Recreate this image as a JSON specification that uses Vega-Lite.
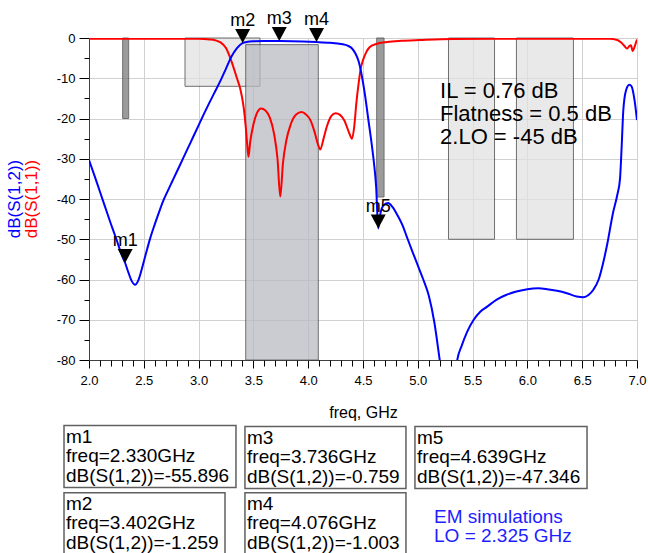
{
  "$schema": "https://vega.github.io/schema/vega-lite/v6.json",
  "width": 548,
  "height": 322,
  "autosize": "none",
  "padding": {"left": 89, "top": 38, "right": 11, "bottom": 193},
  "background": "white",
  "config": {"font": "Liberation Sans", "view": {"stroke": "#404040", "strokeWidth": 1}},
  "resolve": {"axis": {"x": "independent", "y": "independent"}},
  "datasets": {
    "zones": [
      {"x1": 2.307, "x2": 2.362, "y1": 0, "y2": -20, "kind": "dark"},
      {"x1": 2.876, "x2": 3.56, "y1": 0, "y2": -12, "kind": "light"},
      {"x1": 3.43, "x2": 4.092, "y1": -1.65, "y2": -80, "kind": "pass"},
      {"x1": 4.625, "x2": 4.692, "y1": 0, "y2": -39.5, "kind": "dark"},
      {"x1": 5.28, "x2": 5.70, "y1": 0, "y2": -50, "kind": "light"},
      {"x1": 5.90, "x2": 6.42, "y1": 0, "y2": -50, "kind": "light"}
    ],
    "s12": [
      {"f":2.00,"db":-30.3},{"f":2.05,"db":-34.2},{"f":2.10,"db":-38.2},{"f":2.15,"db":-42.2},{"f":2.20,"db":-46.2},{"f":2.25,"db":-50.0},{"f":2.30,"db":-54.0},{"f":2.33,"db":-55.9},{"f":2.36,"db":-58.3},{"f":2.39,"db":-60.4},{"f":2.42,"db":-61.3},{"f":2.45,"db":-60.2},{"f":2.48,"db":-57.6},{"f":2.52,"db":-53.5},{"f":2.56,"db":-49.6},{"f":2.60,"db":-46.3},{"f":2.64,"db":-43.2},{"f":2.68,"db":-40.3},{"f":2.72,"db":-37.9},{"f":2.76,"db":-35.6},{"f":2.80,"db":-33.3},{"f":2.85,"db":-30.4},{"f":2.90,"db":-27.5},{"f":2.95,"db":-24.6},{"f":3.00,"db":-21.7},{"f":3.05,"db":-18.8},{"f":3.10,"db":-16.0},{"f":3.15,"db":-13.3},{"f":3.20,"db":-10.6},{"f":3.25,"db":-7.6},{"f":3.30,"db":-4.6},{"f":3.35,"db":-2.5},{"f":3.40,"db":-1.26},{"f":3.45,"db":-0.95},{"f":3.50,"db":-0.82},{"f":3.60,"db":-0.72},{"f":3.736,"db":-0.76},{"f":3.85,"db":-0.8},{"f":3.95,"db":-0.86},{"f":4.076,"db":-1.0},{"f":4.20,"db":-1.2},{"f":4.30,"db":-1.5},{"f":4.36,"db":-1.9},{"f":4.40,"db":-2.6},{"f":4.43,"db":-3.8},{"f":4.46,"db":-5.8},{"f":4.49,"db":-9.5},{"f":4.52,"db":-14.5},{"f":4.55,"db":-20.5},{"f":4.58,"db":-26.5},{"f":4.60,"db":-31},{"f":4.62,"db":-37},{"f":4.639,"db":-47.3},{"f":4.66,"db":-43.5},{"f":4.69,"db":-41.5},{"f":4.73,"db":-41},{"f":4.77,"db":-42},{"f":4.82,"db":-44.3},{"f":4.86,"db":-46.5},{"f":4.90,"db":-49.4},{"f":4.95,"db":-53},{"f":5.00,"db":-56.5},{"f":5.05,"db":-60},{"f":5.10,"db":-64},{"f":5.15,"db":-70.5},{"f":5.20,"db":-80},{"f":5.25,"db":-90},{"f":5.32,"db":-90},{"f":5.36,"db":-80},{"f":5.40,"db":-76.5},{"f":5.45,"db":-73},{"f":5.51,"db":-70},{"f":5.57,"db":-68},{"f":5.63,"db":-66.8},{"f":5.72,"db":-65},{"f":5.81,"db":-63.8},{"f":5.90,"db":-63},{"f":6.00,"db":-62.4},{"f":6.10,"db":-62.2},{"f":6.18,"db":-62.4},{"f":6.27,"db":-62.8},{"f":6.36,"db":-63.4},{"f":6.45,"db":-64.2},{"f":6.51,"db":-64.4},{"f":6.56,"db":-63.8},{"f":6.60,"db":-62.6},{"f":6.65,"db":-60},{"f":6.69,"db":-56},{"f":6.73,"db":-51},{"f":6.78,"db":-43.6},{"f":6.82,"db":-39},{"f":6.845,"db":-35},{"f":6.86,"db":-27},{"f":6.875,"db":-18},{"f":6.90,"db":-13},{"f":6.93,"db":-11.6},{"f":6.95,"db":-12},{"f":6.975,"db":-15},{"f":7.00,"db":-20.4}
    ],
    "s11": [
      {"f":2.00,"db":-0.2},{"f":2.50,"db":-0.2},{"f":3.00,"db":-0.2},{"f":3.05,"db":-0.25},{"f":3.10,"db":-0.35},{"f":3.15,"db":-0.55},{"f":3.20,"db":-1.1},{"f":3.25,"db":-2.5},{"f":3.30,"db":-5.8},{"f":3.35,"db":-10},{"f":3.38,"db":-12.6},{"f":3.41,"db":-17},{"f":3.43,"db":-22},{"f":3.445,"db":-27},{"f":3.455,"db":-29.5},{"f":3.47,"db":-26},{"f":3.50,"db":-21.5},{"f":3.53,"db":-18.8},{"f":3.57,"db":-17.5},{"f":3.61,"db":-18},{"f":3.65,"db":-19.8},{"f":3.69,"db":-24},{"f":3.72,"db":-30},{"f":3.745,"db":-39.4},{"f":3.77,"db":-31},{"f":3.80,"db":-25.5},{"f":3.84,"db":-21.5},{"f":3.89,"db":-19},{"f":3.94,"db":-18.4},{"f":3.98,"db":-19},{"f":4.02,"db":-20.4},{"f":4.06,"db":-23.5},{"f":4.09,"db":-26.5},{"f":4.11,"db":-27.7},{"f":4.14,"db":-25},{"f":4.17,"db":-22},{"f":4.21,"db":-19.4},{"f":4.25,"db":-18.7},{"f":4.29,"db":-19.1},{"f":4.33,"db":-20.5},{"f":4.37,"db":-23.3},{"f":4.40,"db":-25},{"f":4.42,"db":-22},{"f":4.44,"db":-16},{"f":4.46,"db":-11.3},{"f":4.48,"db":-7.5},{"f":4.50,"db":-5.5},{"f":4.53,"db":-3.5},{"f":4.56,"db":-2.3},{"f":4.62,"db":-1.5},{"f":4.72,"db":-1.0},{"f":4.85,"db":-0.7},{"f":5.02,"db":-0.5},{"f":5.32,"db":-0.25},{"f":6.00,"db":-0.2},{"f":6.75,"db":-0.2},{"f":6.82,"db":-0.5},{"f":6.85,"db":-1.0},{"f":6.88,"db":-1.8},{"f":6.91,"db":-2.6},{"f":6.93,"db":-2.0},{"f":6.945,"db":-1.8},{"f":6.96,"db":-3.2},{"f":6.98,"db":-2.0},{"f":7.00,"db":-0.4}
    ],
    "markers": [
      {"name": "m1", "f": 2.330, "db": -55.896},
      {"name": "m2", "f": 3.402, "db": -1.259},
      {"name": "m3", "f": 3.736, "db": -0.759},
      {"name": "m4", "f": 4.076, "db": -1.003},
      {"name": "m5", "f": 4.639, "db": -47.346}
    ],
    "boxes": [
      {"bx1": 1.772, "bx2": 3.341, "by1": -96.3, "by2": -111.7, "tx": 1.79, "ty": -100.6, "lines": ["m1", "freq=2.330GHz", "dB(S(1,2))=-55.896"]},
      {"bx1": 1.772, "bx2": 3.241, "by1": -113.0, "by2": -140, "tx": 1.79, "ty": -117.2, "lines": ["m2", "freq=3.402GHz", "dB(S(1,2))=-1.259"]},
      {"bx1": 3.423, "bx2": 4.892, "by1": -96.5, "by2": -111.9, "tx": 3.442, "ty": -100.8, "lines": ["m3", "freq=3.736GHz", "dB(S(1,2))=-0.759"]},
      {"bx1": 3.423, "bx2": 4.892, "by1": -113.0, "by2": -140, "tx": 3.442, "ty": -117.2, "lines": ["m4", "freq=4.076GHz", "dB(S(1,2))=-1.003"]},
      {"bx1": 4.974, "bx2": 6.544, "by1": -96.5, "by2": -111.9, "tx": 4.993, "ty": -100.8, "lines": ["m5", "freq=4.639GHz", "dB(S(1,2))=-47.346"]}
    ],
    "notes": [
      {"x": 5.203, "y": -15, "lines": ["IL = 0.76 dB", "Flatness = 0.5 dB", "2.LO = -45 dB"]}
    ],
    "em": [
      {"x": 5.148, "y": -120.5, "lines": ["EM simulations", "LO = 2.325 GHz"]}
    ],
    "ytitles": [
      {"x": 1.325, "y": -40, "t": "dB(S(1,2))", "trace": "S12"},
      {"x": 1.48, "y": -40, "t": "dB(S(1,1))", "trace": "S11"}
    ]
  },
  "layer": [
    {
      "data": {"name": "zones"},
      "mark": {"type": "rect", "stroke": "#404040", "strokeWidth": 1, "opacity": 0.75},
      "encoding": {
        "x": {"field": "x1", "type": "quantitative",
          "scale": {"domain": [2, 7], "nice": false, "zero": false},
          "axis": {
            "orient": "bottom",
            "values": [2.0, 2.5, 3.0, 3.5, 4.0, 4.5, 5.0, 5.5, 6.0, 6.5, 7.0],
            "format": ".1f",
            "ticks": true,
            "tickSize": 8,
            "tickWidth": 1,
            "tickColor": "black",
            "grid": true,
            "gridColor": "#d0d0d0",
            "title": "freq, GHz",
            "titleFontSize": 16,
            "titleFontWeight": "normal",
            "titleColor": "black",
            "titlePadding": 17,
            "labelFontSize": 13,
            "labelColor": "black",
            "labelPadding": 6,
            "labelOverlap": false,
            "labelFlush": false,
            "domainColor": "#404040"
          }
        },
        "x2": {"field": "x2"},
        "y": {"field": "y1", "type": "quantitative",
          "scale": {"domain": [-80, 0], "nice": false, "zero": false},
          "axis": {
            "orient": "left",
            "values": [-80, -70, -60, -50, -40, -30, -20, -10, 0],
            "labelExpr": "'' + datum.value",
            "ticks": true,
            "tickSize": 10,
            "tickWidth": 1,
            "tickColor": "black",
            "grid": true,
            "gridColor": "#d0d0d0",
            "title": null,
            "labelFontSize": 13,
            "labelColor": "black",
            "labelPadding": 4,
            "labelOverlap": false,
            "labelFlush": false,
            "domainColor": "#404040"
          }
        },
        "y2": {"field": "y2"},
        "fill": {"field": "kind", "type": "nominal",
          "scale": {"domain": ["dark", "light", "pass"], "range": ["#7a7a7a", "#e2e2e2", "#b9bbc2"]},
          "legend": null}
      }
    },
    {
      "data": {"name": "s11"},
      "mark": {"type": "line", "color": "#ff0000", "strokeWidth": 2, "clip": true, "interpolate": "monotone"},
      "encoding": {
        "x": {"field": "f", "type": "quantitative",
          "axis": {"orient": "bottom", "values": [2.1,2.2,2.3,2.4,2.6,2.7,2.8,2.9,3.1,3.2,3.3,3.4,3.6,3.7,3.8,3.9,4.1,4.2,4.3,4.4,4.6,4.7,4.8,4.9,5.1,5.2,5.3,5.4,5.6,5.7,5.8,5.9,6.1,6.2,6.3,6.4,6.6,6.7,6.8,6.9],
            "labels": false, "grid": false, "domain": false, "ticks": true, "tickSize": 6, "tickWidth": 1, "tickColor": "black", "title": null}},
        "y": {"field": "db", "type": "quantitative",
          "axis": {"orient": "left", "values": [-75, -65, -55, -45, -35, -25, -15, -5],
            "labels": false, "grid": false, "domain": false, "ticks": true, "tickSize": 5, "tickWidth": 1, "tickColor": "black", "title": null}}
      }
    },
    {
      "data": {"name": "s12"},
      "mark": {"type": "line", "color": "#0000ff", "strokeWidth": 2, "clip": true, "interpolate": "monotone"},
      "encoding": {
        "x": {"field": "f", "type": "quantitative", "axis": null},
        "y": {"field": "db", "type": "quantitative", "axis": null}
      }
    },
    {
      "data": {"name": "markers"},
      "mark": {"type": "point", "shape": "M -1 -1.87 L 1 -1.87 L 0 0 Z", "size": 225, "filled": true, "color": "black", "opacity": 1},
      "encoding": {
        "x": {"field": "f", "type": "quantitative", "axis": null},
        "y": {"field": "db", "type": "quantitative", "axis": null}
      }
    },
    {
      "data": {"name": "markers"},
      "mark": {"type": "text", "fontSize": 18, "dy": -17, "baseline": "alphabetic", "align": "center", "color": "black"},
      "encoding": {
        "x": {"field": "f", "type": "quantitative", "axis": null},
        "y": {"field": "db", "type": "quantitative", "axis": null},
        "text": {"field": "name"}
      }
    },
    {
      "data": {"name": "notes"},
      "mark": {"type": "text", "fontSize": 22, "align": "left", "baseline": "alphabetic", "lineHeight": 22.6, "color": "black"},
      "encoding": {
        "x": {"field": "x", "type": "quantitative", "axis": null},
        "y": {"field": "y", "type": "quantitative", "axis": null},
        "text": {"field": "lines"}
      }
    },
    {
      "data": {"name": "ytitles"},
      "mark": {"type": "text", "fontSize": 17, "angle": 270, "align": "center", "baseline": "middle"},
      "encoding": {
        "x": {"field": "x", "type": "quantitative", "axis": null},
        "y": {"field": "y", "type": "quantitative", "axis": null},
        "text": {"field": "t"},
        "color": {"field": "trace", "type": "nominal", "scale": {"domain": ["S11", "S12"], "range": ["#ff0000", "#0000ff"]}, "legend": null}
      }
    },
    {
      "data": {"name": "boxes"},
      "mark": {"type": "rect", "fill": "white", "stroke": "#606060", "strokeWidth": 1.5},
      "encoding": {
        "x": {"field": "bx1", "type": "quantitative", "axis": null},
        "x2": {"field": "bx2"},
        "y": {"field": "by1", "type": "quantitative", "axis": null},
        "y2": {"field": "by2"}
      }
    },
    {
      "data": {"name": "boxes"},
      "mark": {"type": "text", "fontSize": 19, "align": "left", "baseline": "alphabetic", "lineHeight": 19.5, "color": "black"},
      "encoding": {
        "x": {"field": "tx", "type": "quantitative", "axis": null},
        "y": {"field": "ty", "type": "quantitative", "axis": null},
        "text": {"field": "lines"}
      }
    },
    {
      "data": {"name": "em"},
      "mark": {"type": "text", "fontSize": 19, "align": "left", "baseline": "alphabetic", "lineHeight": 19, "color": "#1e1eff"},
      "encoding": {
        "x": {"field": "x", "type": "quantitative", "axis": null},
        "y": {"field": "y", "type": "quantitative", "axis": null},
        "text": {"field": "lines"}
      }
    }
  ]
}
